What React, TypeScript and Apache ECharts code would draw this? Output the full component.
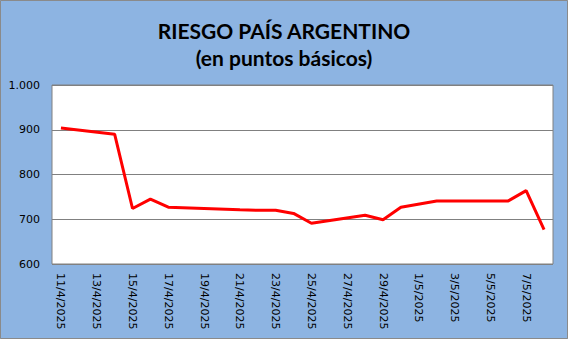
import React, { useEffect, useRef } from "react";
import * as echarts from "echarts";

const titleLines = ["RIESGO PAÍS ARGENTINO", "(en puntos básicos)"];
const dates = [
  "11/4/2025", "12/4/2025", "13/4/2025", "14/4/2025", "15/4/2025", "16/4/2025", "17/4/2025",
  "18/4/2025", "19/4/2025", "20/4/2025", "21/4/2025", "22/4/2025", "23/4/2025", "24/4/2025",
  "25/4/2025", "26/4/2025", "27/4/2025", "28/4/2025", "29/4/2025", "30/4/2025", "1/5/2025",
  "2/5/2025", "3/5/2025", "4/5/2025", "5/5/2025", "6/5/2025", "7/5/2025", "8/5/2025",
];
const riesgo: (number | null)[] = [
  904, null, null, 890, 724, 745, 727,
  null, null, null, 721, 720, 720, 713,
  691, null, null, 709, 699, 727, null,
  741, null, null, 741, 741, 764, 677,
];
const yMin = 600;
const yMax = 1000;
const yStep = 100;

export default function App() {
  const ref = useRef<HTMLDivElement>(null);
  useEffect(() => {
    if (!ref.current) return;
    const chart = echarts.init(ref.current, undefined, { renderer: "svg" });
    chart.setOption({
      animation: false,
      backgroundColor: "#8DB4E2",
      title: {
        text: titleLines.join("\n"),
        left: "center",
        top: 12,
        textStyle: {
          fontFamily: "Lato",
          fontWeight: "bold",
          fontSize: 21,
          lineHeight: 27,
          color: "#000000",
        },
      },
      graphic: [
        {
          type: "rect",
          shape: { x: 0.5, y: 0.5, width: 567, height: 338 },
          style: { fill: "none", stroke: "#8a8a8a", lineWidth: 1 },
          silent: true,
        },
      ],
      grid: {
        left: 52,
        right: 15,
        top: 85,
        bottom: 75,
        show: true,
        backgroundColor: "#FFFFFF",
        borderColor: "#808080",
        borderWidth: 1,
      },
      xAxis: {
        type: "category",
        data: dates,
        boundaryGap: true,
        axisLine: { show: false },
        axisTick: { show: false },
        axisLabel: {
          interval: 1,
          rotate: -90,
          margin: 9,
          fontFamily: "DejaVu Sans",
          fontSize: 11,
          color: "#000000",
        },
      },
      yAxis: {
        type: "value",
        min: yMin,
        max: yMax,
        interval: yStep,
        axisLine: { show: false },
        axisTick: { show: false },
        splitLine: { lineStyle: { color: "#808080", width: 1 } },
        axisLabel: {
          margin: 12,
          fontFamily: "DejaVu Sans",
          fontSize: 11,
          color: "#000000",
          formatter: (v: number) => (v >= 1000 ? v.toLocaleString("de-DE") : String(v)),
        },
      },
      series: [
        {
          type: "line",
          data: riesgo,
          connectNulls: true,
          showSymbol: false,
          symbol: "none",
          lineStyle: { color: "#FF0000", width: 3 },
        },
      ],
    });
    return () => chart.dispose();
  }, []);
  return (
    <div
      ref={ref}
      style={{ position: "fixed", left: 0, top: 0, width: 568, height: 339 }}
    />
  );
}
